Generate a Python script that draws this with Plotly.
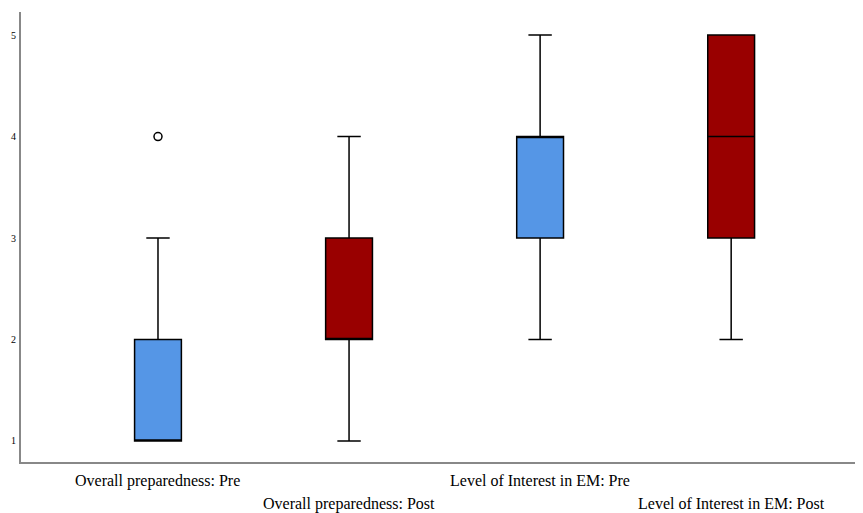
import plotly.graph_objects as go

categories = ["Overall preparedness: Pre", "Overall preparedness: Post",
              "Level of Interest in EM: Pre", "Level of Interest in EM: Post"]
q1 = [1, 2, 3, 3]
median = [1, 2, 4, 4]
q3 = [2, 3, 4, 5]
lowerfence = [1, 1, 2, 2]
upperfence = [3, 4, 5, 5]
colors = ["#5596E6", "#990000", "#5596E6", "#990000"]
outlier_cat = [0]
outlier_val = [4]
ytick_vals = [1, 2, 3, 4, 5]

fig = go.Figure()
for i, cat in enumerate(categories):
    fig.add_trace(go.Box(
        x=[i], q1=[q1[i]], median=[median[i]], q3=[q3[i]],
        lowerfence=[lowerfence[i]], upperfence=[upperfence[i]],
        fillcolor=colors[i], line=dict(color="black", width=1.5),
        width=0.245, whiskerwidth=0.5, boxpoints=False, showlegend=False,
        name=cat, hoverinfo="skip",
    ))

fig.add_trace(go.Scatter(
    x=outlier_cat, y=outlier_val, mode="markers",
    marker=dict(symbol="circle-open", size=8, color="black", line=dict(width=1.5)),
    showlegend=False, hoverinfo="skip",
))

rows = [-0.042, -0.093, -0.042, -0.093]
for i, cat in enumerate(categories):
    fig.add_annotation(x=i, y=rows[i], xref="x", yref="paper", text=cat,
                       showarrow=False, xanchor="center", yanchor="middle",
                       font=dict(family="Liberation Serif", size=16, color="black"))

fig.update_layout(
    width=855, height=505,
    margin=dict(l=13, r=0, t=4, b=51, autoexpand=False),
    paper_bgcolor="white", plot_bgcolor="white",
    font=dict(family="Liberation Serif", color="black"),
    boxgap=0,
)
fig.update_xaxes(range=[-0.717, 3.69], showticklabels=False, showgrid=False,
                 zeroline=False, showline=True, linecolor="#888888", linewidth=2,
                 ticks="")
fig.update_yaxes(range=[0.793, 5.227], tickvals=ytick_vals, showgrid=False,
                 zeroline=False, showline=True, linecolor="#888888", linewidth=2,
                 ticks="", tickfont=dict(family="Liberation Serif", size=10, color="black"),
                 ticklabelstandoff=1)

fig.write_html("out.html")
